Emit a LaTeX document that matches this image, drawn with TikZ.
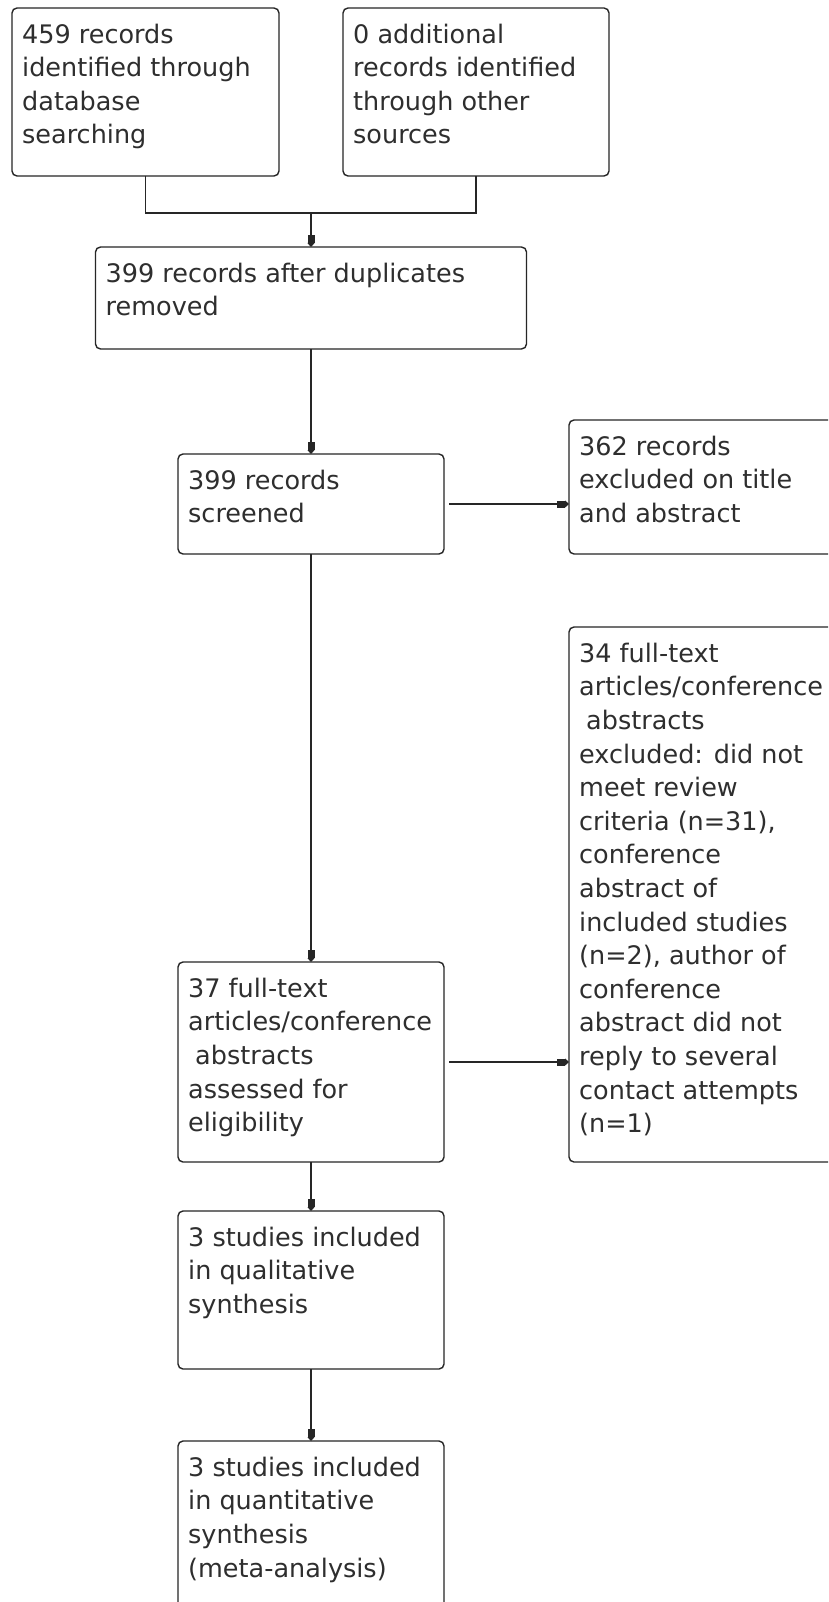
\documentclass[tikz,border=0pt]{standalone}
\usepackage{fontspec}
\setmainfont{DejaVu Sans}
\usetikzlibrary{arrows.meta}
\begin{document}
\begin{tikzpicture}[x=1pt,y=-1pt,
  box/.style={draw=black!85, line width=1.4pt, rounded corners=5pt, inner sep=0pt, outer sep=0pt},
  txt/.style={anchor=north west, inner sep=0pt, align=left, font=\fontsize{25.5}{33.6}\selectfont, text=black!82},
  conn/.style={draw=black!85, line width=1.6pt},
  arr/.style={conn, -{Rectangle[length=8pt,width=7pt]Triangle[length=4pt,width=7pt]}}
]
\useasboundingbox (0,0) rectangle (828,1602);
\fill[white] (0,0) rectangle (828,1602);
\clip (0,0) rectangle (828,1602);
% boxes: center, width, height
\node[box, minimum width=267pt, minimum height=168pt] (b1) at (145.5,92) {};
\node[box, minimum width=266pt, minimum height=168pt] (b2) at (476,92) {};
\node[box, minimum width=431pt, minimum height=102pt] (b3) at (311,298) {};
\node[box, minimum width=266pt, minimum height=100pt] (b4) at (311,504) {};
\node[box, minimum width=280pt, minimum height=134pt] (b5) at (709,487) {};
\node[box, minimum width=280pt, minimum height=535pt] (b6) at (709,894.5) {};
\node[box, minimum width=266pt, minimum height=200pt] (b7) at (311,1062) {};
\node[box, minimum width=266pt, minimum height=158pt] (b8) at (311,1290) {};
\node[box, minimum width=266pt, minimum height=200pt] (b9) at (311,1541) {};
% texts
\node[txt] (t1) at ([shift={(10,9)}]b1.north west) {\rule{0pt}{26pt}459 records\\identified through\\database\\searching};
\node[txt] (t2) at ([shift={(10,9)}]b2.north west) {\rule{0pt}{26pt}0 additional\\records identified\\through other\\sources};
\node[txt] (t3) at ([shift={(10,9)}]b3.north west) {\rule{0pt}{26pt}399 records after duplicates\\removed};
\node[txt] (t4) at ([shift={(10,9)}]b4.north west) {\rule{0pt}{26pt}399 records\\screened};
\node[txt] (t5) at ([shift={(10,9)}]b5.north west) {\rule{0pt}{26pt}362 records\\excluded on title\\and abstract};
\node[txt] (t6) at ([shift={(10,9)}]b6.north west) {\rule{0pt}{26pt}34 full-text\\articles/conference\\\hspace*{7pt}abstracts\\excluded: did not\\meet review\\criteria (n=31),\\conference\\abstract of\\included studies\\(n=2), author of\\conference\\abstract did not\\reply to several\\contact attempts\\(n=1)};
\node[txt] (t7) at ([shift={(10,9)}]b7.north west) {\rule{0pt}{26pt}37 full-text\\articles/conference\\\hspace*{7pt}abstracts\\assessed for\\eligibility};
\node[txt] (t8) at ([shift={(10,9)}]b8.north west) {\rule{0pt}{26pt}3 studies included\\in qualitative\\synthesis};
\node[txt] (t9) at ([shift={(10,9)}]b9.north west) {\rule{0pt}{26pt}3 studies included\\in quantitative\\synthesis\\(meta-analysis)};
% connectors
\coordinate (m) at (311,213);
\draw[conn] (b1.south) -- (b1.south |- m) -- (b2.south |- m) -- (b2.south);
\draw[arr] (m) -- (b3.north);
\draw[arr] (b3.south) -- (b4.north);
\draw[arr] (b4.south) -- (b7.north);
\draw[arr] (b7.south) -- (b8.north);
\draw[arr] (b8.south) -- (b9.north);
\draw[arr, shorten <=5pt] (b4.east) -- (b4.east -| b5.west);
\draw[arr, shorten <=5pt] (b7.east) -- (b7.east -| b6.west);
\end{tikzpicture}
\end{document}
